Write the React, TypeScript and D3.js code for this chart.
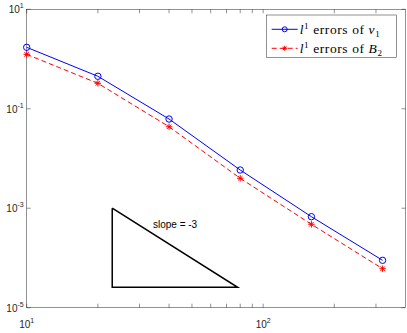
import * as d3 from 'd3';

const nValues = [10, 20, 40, 80, 160, 320];
const errV1 = [1.72, 0.45, 0.0622, 0.00587, 6.76e-4, 8.97e-5];
const errB2 = [1.24, 0.325, 0.0435, 0.0040, 4.75e-4, 6.08e-5];
const yTickValues = [1e1, 1e-1, 1e-3, 1e-5];
const yTickExp = ['1', '-1', '-3', '-5'];
const xTickValues = [10, 100];
const xTickExp = ['1', '2'];
const xMinorTicks = [20, 30, 40, 50, 60, 70, 80, 90, 200, 300];
const triX = [23, 78];
const triTop = 1e-3;
const slopeText = 'slope = -3';

const width = 407;
const height = 333;
const m = { left: 26.7, right: 405.5, top: 9.3, bottom: 307.7 };

const App = () => {
  const x = d3.scaleLog().domain([10, 400]).range([m.left, m.right]);
  const y = d3.scaleLog().domain([1e-5, 1e1]).range([m.bottom, m.top]);

  const line = d3.line<number>()
    .x((d, i) => x(nValues[i]))
    .y(d => y(d));

  const triBottom = triTop * Math.pow(triX[0] / triX[1], 3);
  const triPath = d3.line<[number, number]>()
    .x(d => x(d[0]))
    .y(d => y(d[1]))([
      [triX[0], triTop],
      [triX[0], triBottom],
      [triX[1], triBottom],
      [triX[0], triTop],
    ]);

  const axisColor = '#262626';
  const tickLen = 4;

  const star = (cx: number, cy: number, r: number) =>
    `M${cx - r},${cy}L${cx + r},${cy}M${cx},${cy - r}L${cx},${cy + r}` +
    `M${cx - r * 0.7},${cy - r * 0.7}L${cx + r * 0.7},${cy + r * 0.7}` +
    `M${cx - r * 0.7},${cy + r * 0.7}L${cx + r * 0.7},${cy - r * 0.7}`;

  const legX = 266.7, legY = 15, legW = 130, legH = 42.3;

  return (
    <svg width={width} height={height} style={{ position: 'absolute', left: 0, top: 0 }}
      fontFamily="'Liberation Sans', Arial, sans-serif">
      <rect x={0} y={0} width={width} height={height} fill="#fff" />
      <rect x={m.left} y={m.top} width={m.right - m.left} height={m.bottom - m.top}
        fill="#fff" stroke={axisColor} strokeWidth={0.5} />

      {/* x ticks, bottom and top */}
      {xTickValues.concat(xMinorTicks).map((t, i) => (
        <g key={'xt' + i}>
          <line x1={x(t)} x2={x(t)} y1={m.bottom} y2={m.bottom - tickLen} stroke={axisColor} strokeWidth={0.5} />
          <line x1={x(t)} x2={x(t)} y1={m.top} y2={m.top + tickLen} stroke={axisColor} strokeWidth={0.5} />
        </g>
      ))}
      {yTickValues.map((t, i) => (
        <g key={'yt' + i}>
          <line x1={m.left} x2={m.left + tickLen} y1={y(t)} y2={y(t)} stroke={axisColor} strokeWidth={0.5} />
          <line x1={m.right} x2={m.right - tickLen} y1={y(t)} y2={y(t)} stroke={axisColor} strokeWidth={0.5} />
        </g>
      ))}

      {/* tick labels */}
      {yTickValues.map((t, i) => (
        <text key={'yl' + i} x={m.left - 3} y={y(t) + 4} textAnchor="end" fontSize={10} fill={axisColor}>
          <tspan>10</tspan>
          <tspan dy={-5} fontSize={7}>{yTickExp[i]}</tspan>
        </text>
      ))}
      {xTickValues.map((t, i) => (
        <text key={'xl' + i} x={x(t)} y={m.bottom + 20} textAnchor="middle" fontSize={10} fill={axisColor}>
          <tspan>10</tspan>
          <tspan dy={-5} fontSize={7}>{xTickExp[i]}</tspan>
        </text>
      ))}

      {/* series */}
      <path d={line(errV1) || ''} fill="none" stroke="#0000ff" strokeWidth={1} />
      {errV1.map((v, i) => (
        <circle key={'c' + i} cx={x(nValues[i])} cy={y(v)} r={3.2} fill="none" stroke="#0000ff" strokeWidth={1} />
      ))}
      <path d={line(errB2) || ''} fill="none" stroke="#ff0000" strokeWidth={1} strokeDasharray="5,3" />
      {errB2.map((v, i) => (
        <path key={'s' + i} d={star(x(nValues[i]), y(v), 3.2)} stroke="#ff0000" strokeWidth={1} />
      ))}

      {/* slope triangle */}
      <path d={triPath || ''} fill="none" stroke="#000" strokeWidth={1.5} />
      <text x={x(34.2)} y={y(4.5e-4)} fontSize={10} dominantBaseline="middle" fill="#000">{slopeText}</text>

      {/* legend */}
      <rect x={legX} y={legY} width={legW} height={legH} fill="#fff" stroke={axisColor} strokeWidth={0.5} />
      <line x1={legX + 5} x2={legX + 31} y1={29.3} y2={29.3} stroke="#0000ff" strokeWidth={1} />
      <circle cx={legX + 18} cy={29.3} r={2.5} fill="none" stroke="#0000ff" strokeWidth={1} />
      <line x1={legX + 5} x2={legX + 31} y1={48.3} y2={48.3} stroke="#ff0000" strokeWidth={1} strokeDasharray="5,3" />
      <path d={star(legX + 18, 48.3, 2.5)} stroke="#ff0000" strokeWidth={1} />
      <g fontFamily="'Liberation Serif', 'Times New Roman', serif" fontSize={13.5} letterSpacing={0.6} fill="#000">
        <text x={legX + 33} y={33.8}>
          <tspan fontStyle="italic">l</tspan>
          <tspan dy={-5} fontSize={9}>1</tspan>
          <tspan dy={5}> errors of </tspan>
          <tspan fontStyle="italic">v</tspan>
          <tspan dy={3} fontSize={9}>1</tspan>
        </text>
        <text x={legX + 33} y={52.8}>
          <tspan fontStyle="italic">l</tspan>
          <tspan dy={-5} fontSize={9}>1</tspan>
          <tspan dy={5}> errors of </tspan>
          <tspan fontStyle="italic">B</tspan>
          <tspan dy={3} fontSize={9}>2</tspan>
        </text>
      </g>
    </svg>
  );
};

export default App;
